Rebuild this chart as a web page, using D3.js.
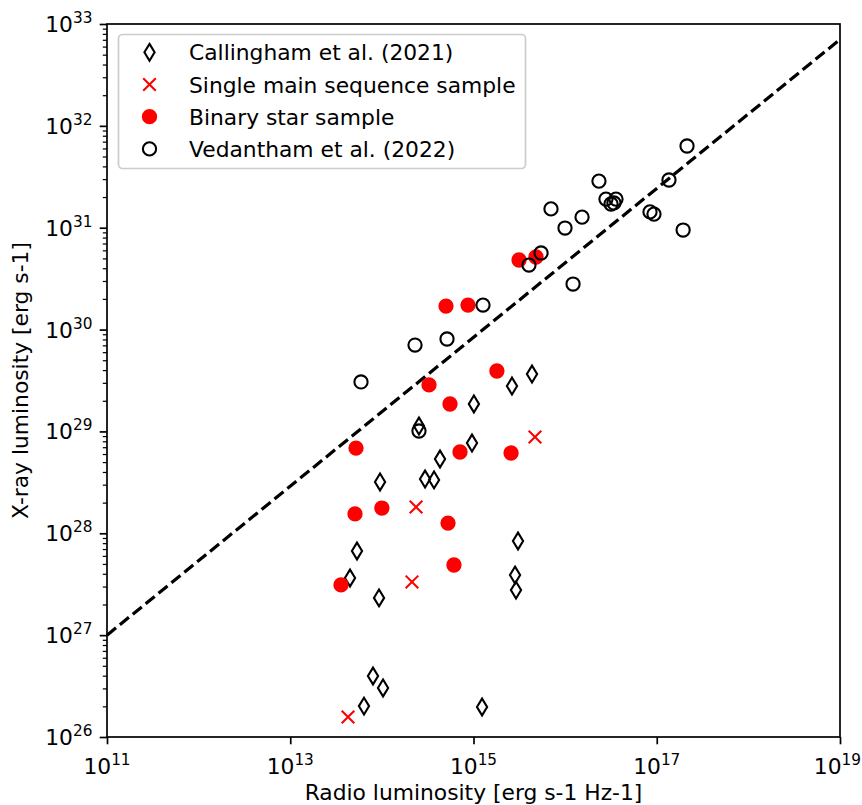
<!DOCTYPE html>
<html>
<head>
<meta charset="utf-8">
<script src="https://cdn.jsdelivr.net/npm/d3@7"></script>
<style>
  html, body { margin: 0; padding: 0; background: #fff; }
  svg { display: block; font-family: "DejaVu Sans", sans-serif; }
</style>
</head>
<body>
<svg id="chart" width="862" height="805"></svg>
<script>
// Callingham et al. (2021)
const callinghamRadio = [4.35e15, 2.63e15, 1.01e15, 2.54e14, 9.63e14, 4.31e14, 2.96e14, 3.71e14, 9.55e13,
  5.35e13, 4.49e13, 9.31e13, 3.06e15, 2.84e15, 2.91e15, 8.00e13, 1.03e14, 6.38e13, 1.24e15];
const callinghamXray = [3.66e29, 2.79e29, 1.86e29, 1.13e29, 7.69e28, 5.36e28, 3.41e28, 3.34e28, 3.19e28,
  6.70e27, 3.64e27, 2.32e27, 8.40e27, 3.89e27, 2.77e27, 3.97e26, 3.03e26, 2.01e26, 1.97e26];

// Single main sequence sample
const singleRadio = [4.69e15, 2.36e14, 2.13e14, 4.27e13];
const singleXray = [8.81e28, 1.81e28, 3.33e27, 1.57e26];

// Binary star sample
const binaryRadio = [3.14e15, 4.81e15, 5.01e14, 8.71e14, 1.80e15, 3.27e14, 5.54e14, 5.22e13, 7.12e14,
  2.57e15, 1.00e14, 5.09e13, 5.27e14, 6.12e14, 3.58e13];
const binaryXray = [4.82e30, 5.16e30, 1.70e30, 1.74e30, 3.92e29, 2.86e29, 1.86e29, 6.87e28, 6.28e28,
  6.14e28, 1.77e28, 1.55e28, 1.26e28, 4.88e27, 3.11e27];

// Vedantham et al. (2022)
const vedanthamRadio = [5.92e13, 2.54e14, 2.30e14, 5.14e14, 1.27e15, 4.03e15, 5.46e15, 7.01e15, 9.97e15,
  1.22e16, 1.53e16, 2.34e16, 2.79e16, 3.17e16, 3.41e16, 3.59e16, 8.44e16, 9.33e16, 1.36e17, 1.94e17, 2.14e17];
const vedanthamXray = [3.06e29, 1.01e29, 7.05e29, 8.08e29, 1.74e30, 4.30e30, 5.65e30, 1.53e31, 9.93e30,
  2.80e30, 1.27e31, 2.87e31, 1.91e31, 1.71e31, 1.75e31, 1.91e31, 1.43e31, 1.36e31, 2.94e31, 9.49e30, 6.34e31];

// Güdel–Benz style relation drawn as the dashed line: Lx = norm * (Lr / 1e11)^slope
const relationRadio = [1e11, 1e19];
const relationNorm = 1e27;
const relationSlope = 0.731;

// Axis ticks
const xTickExponents = [11, 13, 15, 17, 19];
const yTickExponents = [26, 27, 28, 29, 30, 31, 32, 33];

const legendLabels = ["Callingham et al. (2021)", "Single main sequence sample", "Binary star sample", "Vedantham et al. (2022)"];

const svg = d3.select("#chart");
const margin = { left: 107, right: 22, top: 24, bottom: 68 };
const W = 862, H = 805;

const x = d3.scaleLog().domain([1e11, 1e19]).range([margin.left, W - margin.right]);
const y = d3.scaleLog().domain([1e26, 1e33]).range([H - margin.bottom, margin.top]);

const FS = 21.8, SUP = 15.3;
const lw = 1.7;

// dashed relation line
const lineData = relationRadio.map(r => [r, relationNorm * Math.pow(r / 1e11, relationSlope)]);
svg.append("path")
  .datum(lineData)
  .attr("d", d3.line().x(d => x(d[0])).y(d => y(d[1])))
  .attr("fill", "none")
  .attr("stroke", "#000")
  .attr("stroke-width", 3.2)
  .attr("stroke-dasharray", "11.6,5");

// marker shapes
function diamondPath(hw, hh) {
  return `M0,${-hh}L${hw},0L0,${hh}L${-hw},0Z`;
}
function crossPath(s) {
  return `M${-s},${-s}L${s},${s}M${-s},${s}L${s},${-s}`;
}

const gPts = svg.append("g");
const DHW = 5.1, DHH = 8.4;

// Callingham: thin diamonds
gPts.selectAll("path.cal")
  .data(d3.zip(callinghamRadio, callinghamXray))
  .join("path")
  .attr("class", "cal")
  .attr("transform", d => `translate(${x(d[0])},${y(d[1])})`)
  .attr("d", diamondPath(DHW, DHH))
  .attr("fill", "none")
  .attr("stroke", "#000")
  .attr("stroke-width", 2.1);

// Single main sequence: red crosses
gPts.selectAll("path.single")
  .data(d3.zip(singleRadio, singleXray))
  .join("path")
  .attr("class", "single")
  .attr("transform", d => `translate(${x(d[0])},${y(d[1])})`)
  .attr("d", crossPath(6.3))
  .attr("fill", "none")
  .attr("stroke", "#ff0000")
  .attr("stroke-width", 2.1);

// Binary: filled red circles
gPts.selectAll("circle.bin")
  .data(d3.zip(binaryRadio, binaryXray))
  .join("circle")
  .attr("class", "bin")
  .attr("cx", d => x(d[0]))
  .attr("cy", d => y(d[1]))
  .attr("r", 6.6)
  .attr("fill", "#ff0000")
  .attr("stroke", "#ff0000")
  .attr("stroke-width", 2.1);

// Vedantham: open black circles
gPts.selectAll("circle.ved")
  .data(d3.zip(vedanthamRadio, vedanthamXray))
  .join("circle")
  .attr("class", "ved")
  .attr("cx", d => x(d[0]))
  .attr("cy", d => y(d[1]))
  .attr("r", 6.6)
  .attr("fill", "none")
  .attr("stroke", "#000")
  .attr("stroke-width", 2.1);

// axes
const xAxis = d3.axisBottom(x)
  .tickValues(xTickExponents.map(e => Math.pow(10, e)))
  .tickSize(7.3).tickPadding(7.3).tickFormat("");
const gx = svg.append("g").attr("transform", `translate(0,${H - margin.bottom})`).call(xAxis);
gx.select(".domain").remove();
gx.selectAll(".tick line").attr("stroke-width", lw);

xTickExponents.forEach(e => {
  const t = svg.append("text")
    .attr("x", x(Math.pow(10, e)))
    .attr("y", H - margin.bottom + 7.3 + 7.3 + 22)
    .attr("text-anchor", "middle")
    .attr("font-size", FS);
  t.append("tspan").text("10");
  t.append("tspan").attr("font-size", SUP).attr("dy", -9).text(String(e));
  // keep the rightmost label inside the canvas
  const bb = t.node().getBBox();
  const over = bb.x + bb.width - (W - 1);
  if (over > 0) t.attr("x", x(Math.pow(10, e)) - over);
});

const yMinor = [];
for (let e = 26; e < 33; e++) for (let m = 2; m <= 9; m++) yMinor.push(m * Math.pow(10, e));

const gyMinor = svg.append("g").attr("transform", `translate(${margin.left},0)`)
  .call(d3.axisLeft(y).tickValues(yMinor).tickSize(4.2).tickFormat(""));
gyMinor.select(".domain").remove();
gyMinor.selectAll(".tick line").attr("stroke-width", lw * 0.72);

const gy = svg.append("g").attr("transform", `translate(${margin.left},0)`)
  .call(d3.axisLeft(y).tickValues(yTickExponents.map(e => Math.pow(10, e))).tickSize(7.3).tickFormat(""));
gy.select(".domain").remove();
gy.selectAll(".tick line").attr("stroke-width", lw);

yTickExponents.forEach(e => {
  const t = svg.append("text")
    .attr("x", margin.left - 7.3 - 7.3)
    .attr("y", y(Math.pow(10, e)) + 8)
    .attr("text-anchor", "end")
    .attr("font-size", FS);
  t.append("tspan").text("10");
  t.append("tspan").attr("font-size", SUP).attr("dy", -9).text(String(e));
});

// frame
svg.append("rect")
  .attr("x", margin.left).attr("y", margin.top)
  .attr("width", W - margin.left - margin.right)
  .attr("height", H - margin.top - margin.bottom)
  .attr("fill", "none").attr("stroke", "#000").attr("stroke-width", lw);

// axis titles
svg.append("text")
  .attr("x", (margin.left + W - margin.right) / 2)
  .attr("y", 800)
  .attr("text-anchor", "middle")
  .attr("font-size", FS)
  .text("Radio luminosity [erg s-1 Hz-1]");

svg.append("text")
  .attr("transform", `translate(28,${(margin.top + H - margin.bottom) / 2}) rotate(-90)`)
  .attr("text-anchor", "middle")
  .attr("font-size", FS)
  .text("X-ray luminosity [erg s-1]");

// legend
const lg = svg.append("g");
lg.append("rect")
  .attr("x", 118.5).attr("y", 34.5).attr("width", 407).attr("height", 134)
  .attr("rx", 4).attr("ry", 4)
  .attr("fill", "#fff").attr("fill-opacity", 0.8)
  .attr("stroke", "#cccccc").attr("stroke-width", 1.7);

const rowY = i => 52.3 + i * 32.2;
const mx = 149.5;
lg.append("path").attr("transform", `translate(${mx},${rowY(0)})`).attr("d", diamondPath(DHW, DHH))
  .attr("fill", "none").attr("stroke", "#000").attr("stroke-width", 2.1);
lg.append("path").attr("transform", `translate(${mx},${rowY(1)})`).attr("d", crossPath(6.3))
  .attr("fill", "none").attr("stroke", "#ff0000").attr("stroke-width", 2.1);
lg.append("circle").attr("cx", mx).attr("cy", rowY(2)).attr("r", 6.6)
  .attr("fill", "#ff0000").attr("stroke", "#ff0000").attr("stroke-width", 2.1);
lg.append("circle").attr("cx", mx).attr("cy", rowY(3)).attr("r", 6.6)
  .attr("fill", "none").attr("stroke", "#000").attr("stroke-width", 2.1);

legendLabels.forEach((s, i) => {
  lg.append("text")
    .attr("x", 189)
    .attr("y", rowY(i) + 8)
    .attr("font-size", FS)
    .text(s);
});
</script>
</body>
</html>
